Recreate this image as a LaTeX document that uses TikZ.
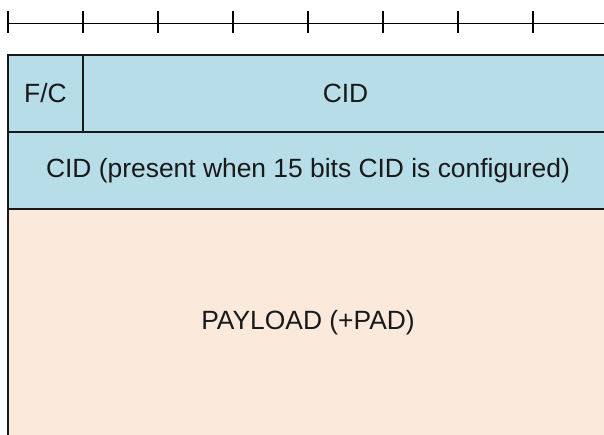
\documentclass[tikz,border=0pt]{standalone}
\usepackage{fontspec}
\setmainfont{Liberation Sans}
\usepackage{xcolor}
\usepackage{tikz}
\usetikzlibrary{positioning, calc}
\definecolor{hdrblue}{HTML}{B7DDE8}
\definecolor{loadpeach}{HTML}{FBE9DB}

\begin{document}
\begin{tikzpicture}[x = 1pt, y = -1pt,
    field/.style = {draw = black!90, line width = 1.3pt, outer sep = 0pt, inner sep = 0pt,
                    font = \fontsize{26.4}{31}\selectfont, text = black!90},
    hdr/.style = {field, fill = hdrblue, minimum height = 77pt},
    load/.style = {field, fill = loadpeach, minimum height = 228pt}]
          \useasboundingbox (0,0) rectangle (604,434);
          \clip (0,0) rectangle (604,434);
          % bit ruler
          \coordinate (rulerL) at (8,23);
          \coordinate (rulerR) at (610,23);
          \draw[line width = 1pt] (rulerL) -- (rulerR);
          \foreach \i in {0,...,7}
              \draw[line width = 1.4pt] ($(rulerL) + (75*\i,-12)$) -- ($(rulerL) + (75*\i,10)$);
          % header fields
          \node[hdr, anchor = north west, minimum width = 75pt] (fc) at (8,55) {F/C};
          \node[hdr, right = 0pt of fc, minimum width = 525pt] (cid) {CID};
          \node[hdr, below right = 0pt and 0pt of fc.south west, minimum width = 600pt] (cidx)
              {CID (present when 15 bits CID is configured)};
          \node[load, below right = 0pt and 0pt of cidx.south west, minimum width = 600pt] (payload)
              {PAYLOAD (+PAD)};
        \end{tikzpicture}
\end{document}
